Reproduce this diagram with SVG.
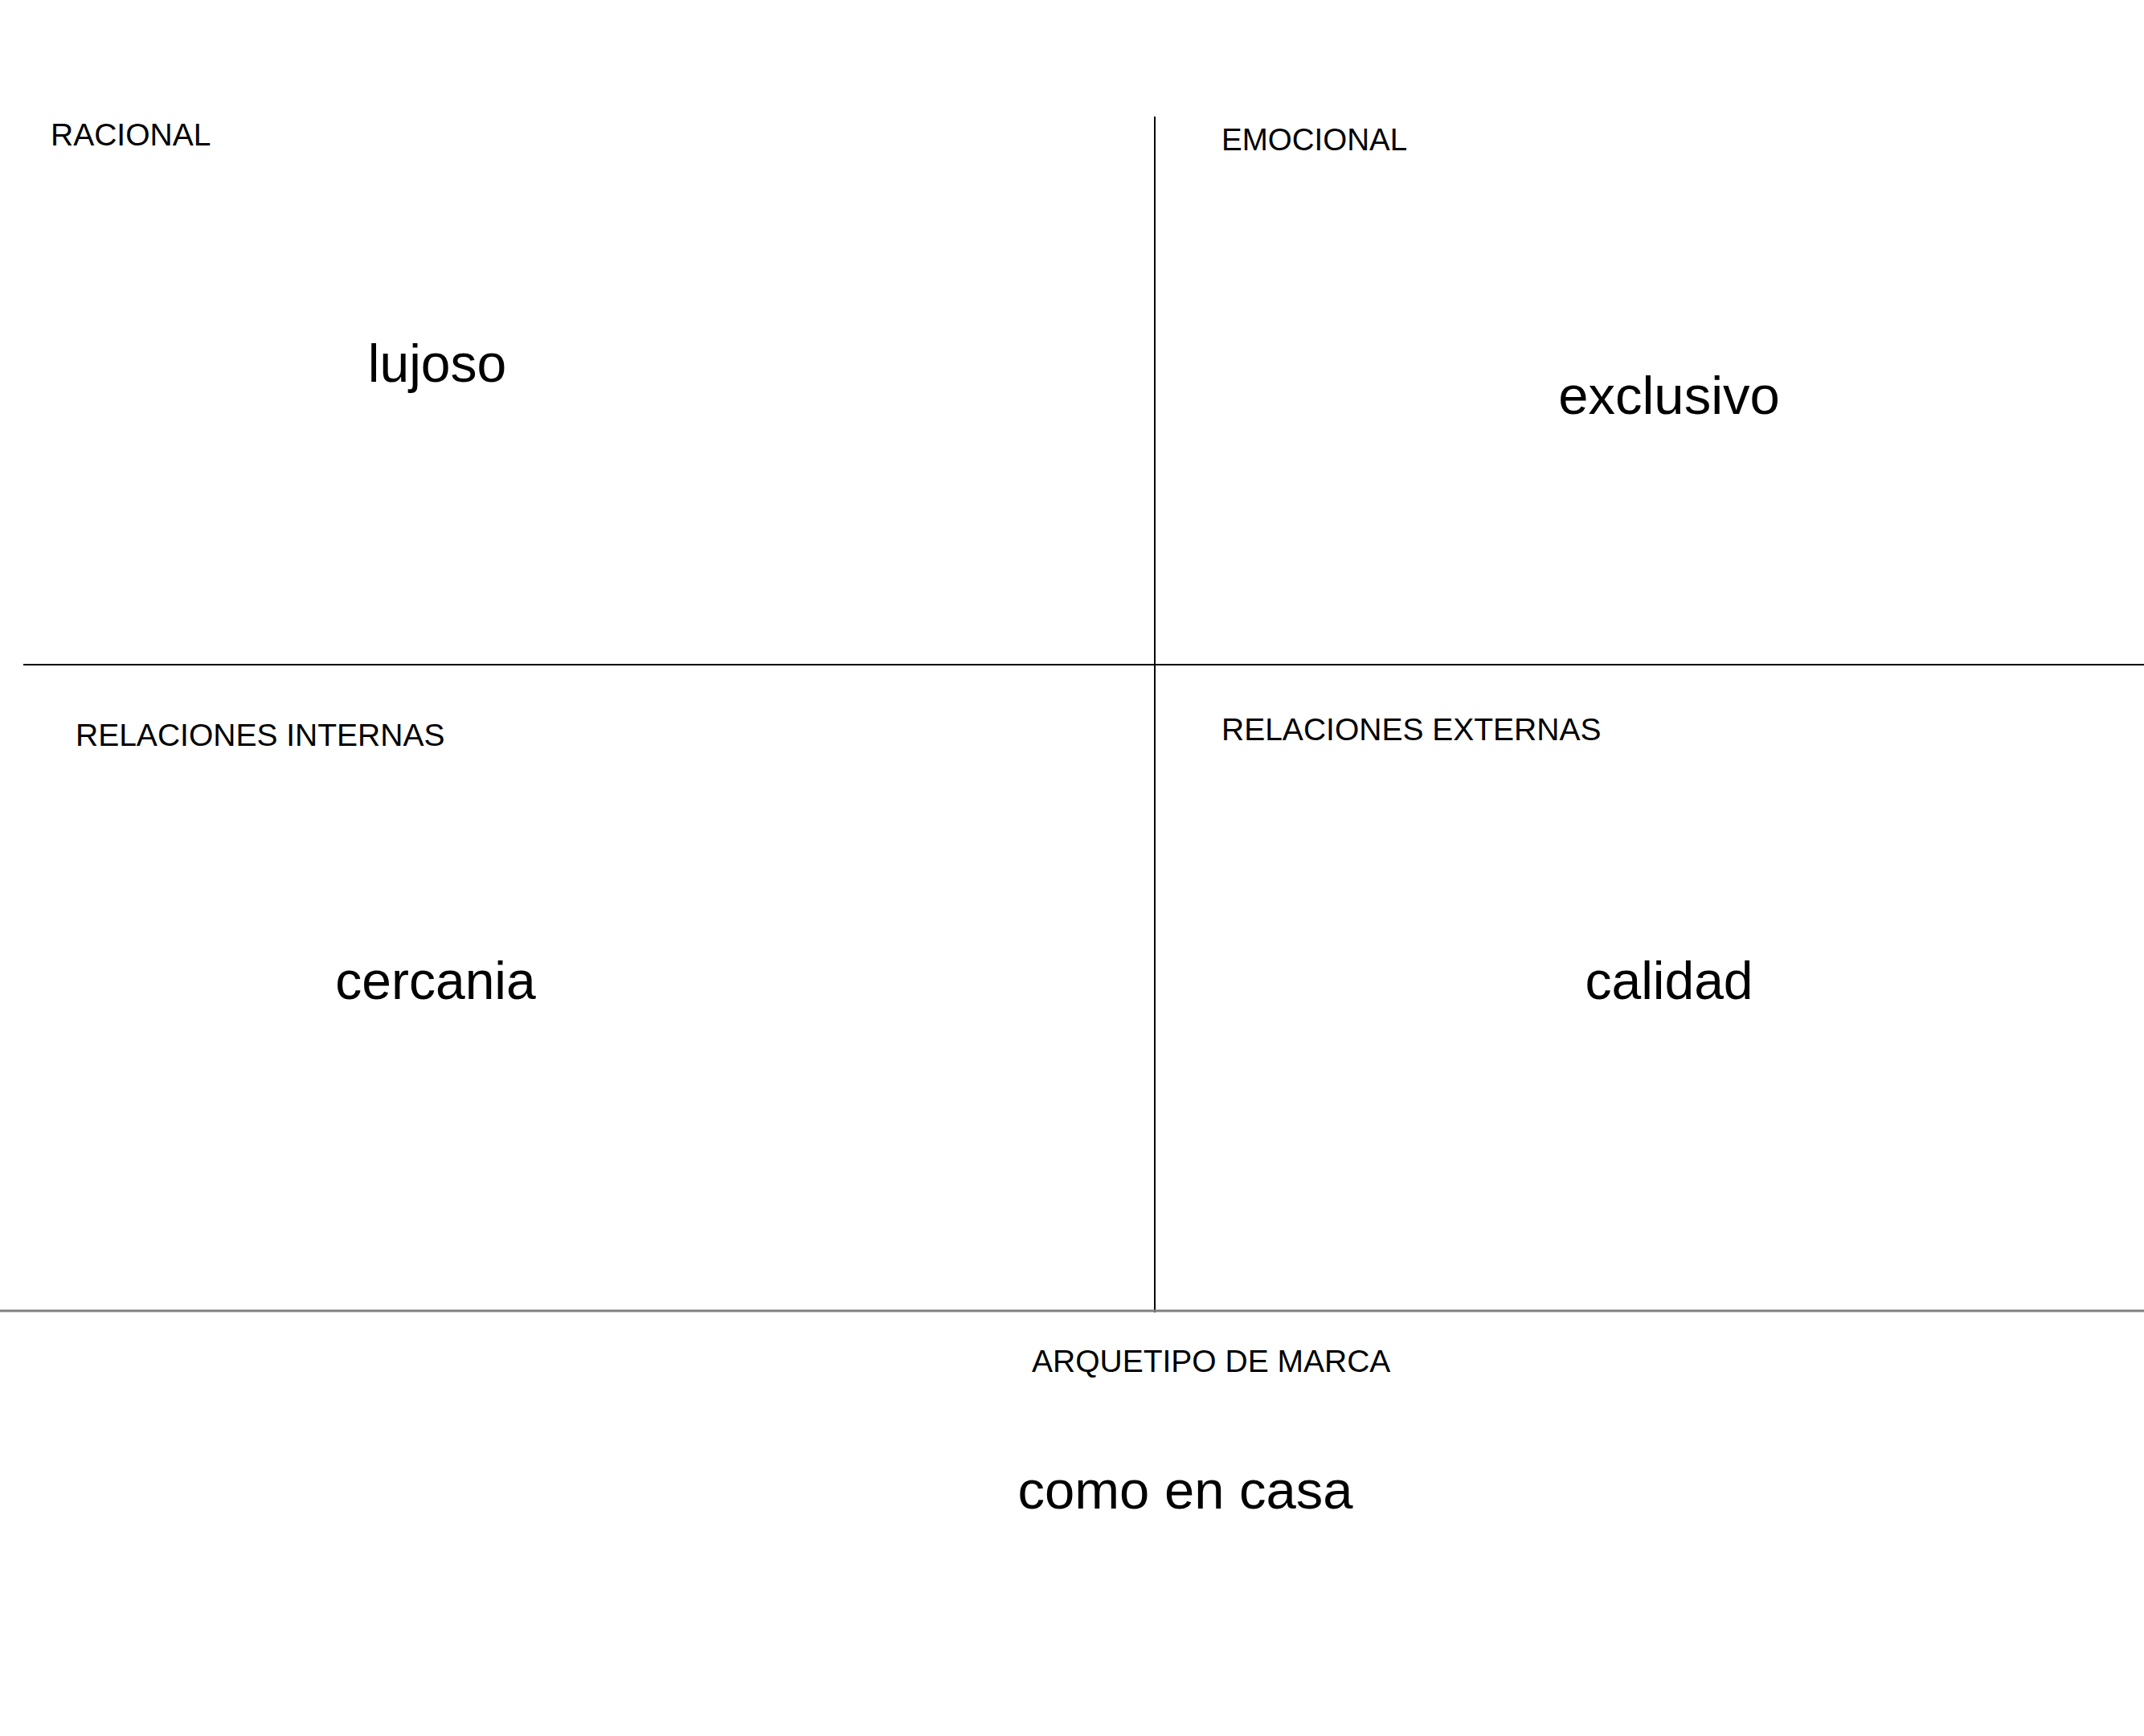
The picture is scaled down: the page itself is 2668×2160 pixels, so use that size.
<svg xmlns="http://www.w3.org/2000/svg" width="2668" height="2160" viewBox="0 0 2668 2160">
<style>
.lbl{font-family:"Liberation Sans",Arial,sans-serif;font-size:39px;fill:#000}
.big{font-family:"Liberation Sans",Arial,sans-serif;font-size:66px;fill:#000;text-anchor:middle}
.ln{stroke:#000;stroke-width:2;fill:none}
.gl{stroke:#808080;stroke-width:3;fill:none}
</style>
<rect width="2668" height="2160" fill="#fff"/>
<g id="connectors">
<line class="ln" x1="1437" y1="145" x2="1437" y2="1633"/>
<line class="ln" x1="29" y1="827" x2="2668" y2="827"/>
<line class="gl" x1="0" y1="1631" x2="2668" y2="1631"/>
</g>
<g id="racional">
<text class="lbl" x="63" y="181">RACIONAL</text>
<text class="big" x="544" y="475">lujoso</text>
</g>
<g id="emocional">
<text class="lbl" x="1520" y="187" style="font-size:38.5px">EMOCIONAL</text>
<text class="big" x="2077" y="515" style="font-size:67px">exclusivo</text>
</g>
<g id="relaciones-internas">
<text class="lbl" x="94" y="928">RELACIONES INTERNAS</text>
<text class="big" x="542" y="1243">cercania</text>
</g>
<g id="relaciones-externas">
<text class="lbl" x="1520" y="921">RELACIONES EXTERNAS</text>
<text class="big" x="2077" y="1243">calidad</text>
</g>
<g id="arquetipo">
<text class="lbl" x="1284" y="1707">ARQUETIPO DE MARCA</text>
<text class="big" x="1475" y="1877" style="font-size:67px">como en casa</text>
</g>
</svg>
